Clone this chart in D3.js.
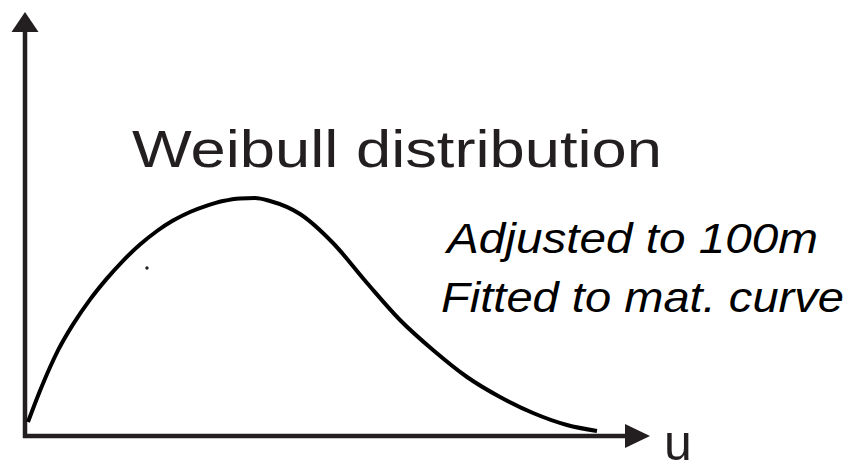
<!DOCTYPE html>
<html>
<head>
<meta charset="utf-8">
<script src="https://cdn.jsdelivr.net/npm/d3@7"></script>
<style>
  html, body { margin: 0; padding: 0; background: #fff; }
  svg { display: block; }
</style>
</head>
<body>
<svg id="chart" width="853" height="464"></svg>
<script>
// Curve (u, density in arbitrary units)
const uValues = [0.5, 2.5, 4.17, 5.5, 8, 10.83, 13.67, 16.33, 19.17, 22, 24.67, 27.5, 30.33, 33, 35.83, 38.33, 40.83, 45.83, 51.33, 57, 62.5, 68, 73.67, 79.17, 84.67, 90.33, 95.33];
const fValues = [3.5, 11.3, 17.2, 21.4, 27.9, 34.1, 39.4, 43.8, 47.85, 51.25, 53.85, 56, 57.6, 58.75, 59.4, 59.5, 58.75, 55.5, 48.25, 38.25, 29, 21.5, 14.75, 9.75, 5.75, 2.75, 1.25];
const strayDot = [20.33, 42];
const titleText = "Weibull distribution";
const noteLines = ["Adjusted to 100m", "Fitted to mat. curve"];
const xAxisLabel = "u";

const ink = "#231f20";
const svg = d3.select("#chart");

const x = d3.scaleLinear().domain([0, 100]).range([25, 625]);
const y = d3.scaleLinear().domain([0, 100]).range([436, 36]);

// axes as arrows
const axisW = 4.5;
svg.append("line")
  .attr("x1", x(0)).attr("y1", y(0) + 2)
  .attr("x2", x(0)).attr("y2", y(100) - 6)
  .attr("stroke", ink).attr("stroke-width", axisW);
svg.append("path")
  .attr("d", `M${x(0)},12 L${x(0) - 13.5},32 L${x(0) + 13.5},32 Z`)
  .attr("fill", ink);

svg.append("line")
  .attr("x1", x(0) - 2).attr("y1", y(0))
  .attr("x2", x(100)).attr("y2", y(0))
  .attr("stroke", ink).attr("stroke-width", axisW);
svg.append("path")
  .attr("d", `M${x(100)},${y(0) - 12} L${x(100) + 25},${y(0)} L${x(100)},${y(0) + 12} Z`)
  .attr("fill", ink);

// curve
const data = uValues.map((u, i) => [u, fValues[i]]);
const line = d3.line()
  .x(d => x(d[0]))
  .y(d => y(d[1]))
  .curve(d3.curveMonotoneX);
svg.append("path")
  .datum(data)
  .attr("d", line)
  .attr("fill", "none")
  .attr("stroke", "#000")
  .attr("stroke-width", 4)
  .attr("stroke-linecap", "butt");

svg.append("circle")
  .attr("cx", x(strayDot[0])).attr("cy", y(strayDot[1]))
  .attr("r", 1.7).attr("fill", ink);

// texts
svg.append("text")
  .attr("x", 132).attr("y", 167)
  .attr("font-family", "Liberation Sans, Arial, sans-serif")
  .attr("font-size", 52)
  .attr("fill", ink)
  .attr("textLength", 530)
  .attr("lengthAdjust", "spacingAndGlyphs")
  .text(titleText);

const notePos = [[447, 253, 371], [441, 312, 403]];
noteLines.forEach((t, i) => {
  svg.append("text")
    .attr("x", notePos[i][0]).attr("y", notePos[i][1])
    .attr("font-family", "Liberation Sans, Arial, sans-serif")
    .attr("font-style", "italic")
    .attr("font-size", 42)
    .attr("fill", "#000")
    .attr("textLength", notePos[i][2])
    .attr("lengthAdjust", "spacingAndGlyphs")
    .text(t);
});

svg.append("text")
  .attr("x", 664).attr("y", 460)
  .attr("font-family", "Liberation Sans, Arial, sans-serif")
  .attr("font-size", 50)
  .attr("fill", ink)
  .text(xAxisLabel);
</script>
</body>
</html>
